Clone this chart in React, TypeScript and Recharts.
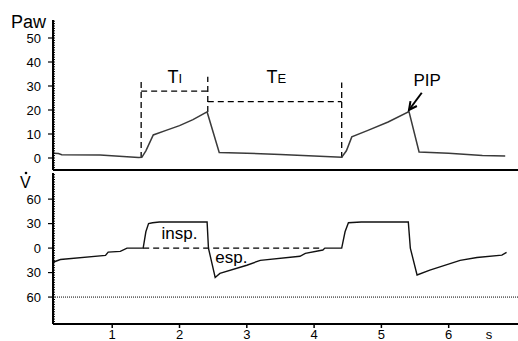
import React from 'react';
import { LineChart, Line, XAxis, YAxis, ReferenceLine, ReferenceDot } from 'recharts';

// airway pressure (cmH2O) vs time (s)
const PAW_T = [0.12, 0.2, 0.25, 0.82, 1.39, 1.44, 1.5, 1.61, 1.8, 2.0, 2.2, 2.41, 2.59, 3.0, 3.5, 4.0, 4.41, 4.48, 4.56, 4.8, 5.1, 5.41, 5.56, 6.0, 6.5, 6.84];
const PAW_V = [2.0, 1.9, 1.4, 1.2, 0.2, 0.3, 3, 9.6, 11.5, 13.5, 16, 19.2, 2.3, 2.0, 1.5, 0.8, 0.3, 3, 8.8, 11.5, 15, 19.3, 2.5, 2.0, 1.0, 0.8];

// flow (L/min) vs time (s)
const FLOW_T = [0.13, 0.23, 0.9, 0.94, 1.12, 1.22, 1.46, 1.5, 1.54, 1.6, 1.7, 2.0, 2.41, 2.43, 2.53, 2.6, 3.0, 3.2, 3.79, 3.87, 4.13, 4.16, 4.41, 4.46, 4.51, 4.7, 5.4, 5.43, 5.53, 5.72, 6.17, 6.42, 6.79, 6.86];
const FLOW_V = [-17, -14, -9, -5, -4, 0, 0, 20, 30, 31, 32, 32, 32, 0, -36, -31, -21, -15, -10, -6.5, -2.4, 0, 0, 20, 31, 32, 32, 0, -33, -27, -15, -11.5, -8.6, -5.3];

const PAW_TICKS = [0, 10, 20, 30, 40, 50];
const FLOW_TICKS = [60, 30, 0, -30, -60];
const TIME_TICKS = [1, 2, 3, 4, 5, 6, 6.6];
const TIME_LABELS = ['1', '2', '3', '4', '5', '6', 's'];

const X_DOMAIN = [0.12, 7.03];
const PAW_DOMAIN = [-5, 57.5];
const FLOW_DOMAIN = [-93, 92];

// minor ruler ticks on the left axes
const PAW_MINOR = Array.from({ length: 62 }, (_, i) => -4 + i);
const FLOW_MINOR = Array.from({ length: 61 }, (_, i) => -90 + i * 3);

// TI / TE brackets
const PAW_DASHES = [
  [{ x: 1.43, y: 0 }, { x: 1.43, y: 31.8 }],
  [{ x: 1.43, y: 27.9 }, { x: 2.42, y: 27.9 }],
  [{ x: 2.42, y: 19.2 }, { x: 2.42, y: 33.9 }],
  [{ x: 2.42, y: 23.5 }, { x: 4.41, y: 23.5 }],
  [{ x: 4.41, y: 0 }, { x: 4.41, y: 31.5 }],
];
const FLOW_DASH = [{ x: 1.46, y: 0 }, { x: 4.13, y: 0 }];
const PIP_ARROW = [{ x: 5.6, y: 27.2 }, { x: 5.41, y: 20 }];

const pawData = PAW_T.map((t, i) => ({ t, v: PAW_V[i] }));
const flowData = FLOW_T.map((t, i) => ({ t, v: FLOW_V[i] }));

const FONT = '"Liberation Sans", Arial, sans-serif';
const tickStyle = { fontSize: 13, fill: '#000', fontFamily: FONT };

const SubLabel = ({ cx, cy, main, sub }: any) => (
  <text x={cx} y={cy} textAnchor="middle" fontFamily={FONT} fill="#000">
    <tspan fontSize={18}>{main}</tspan>
    <tspan fontSize={13}>{sub}</tspan>
  </text>
);

const PlainLabel = ({ cx, cy, text, size }: any) => (
  <text x={cx} y={cy} textAnchor="middle" fontFamily={FONT} fontSize={size} fill="#000">{text}</text>
);

const ArrowHead = ({ cx, cy }: any) => (
  <path d={`M ${cx + 1.5} ${cy - 8.8} L ${cx} ${cy} L ${cx + 7.9} ${cy - 4}`} stroke="#000" strokeWidth={2} fill="none" />
);

// small ruler ticks drawn just inside the y axis line
const MinorTick = (props: any) => {
  const { x, y } = props;
  return <line x1={x} y1={y} x2={x + 2} y2={y} stroke="#000" strokeWidth={1} />;
};

const TimeTick = (props: any) => {
  const { x, y, payload } = props;
  const idx = TIME_TICKS.indexOf(payload.value);
  const isUnit = TIME_LABELS[idx] === 's';
  return (
    <g>
      {!isUnit && <line x1={x} y1={y} x2={x} y2={y + 4} stroke="#000" strokeWidth={1.5} />}
      <text x={x} y={y + 15} textAnchor="middle" style={tickStyle}>{TIME_LABELS[idx]}</text>
    </g>
  );
};

export default function App() {
  return (
    <div style={{ position: 'absolute', left: 0, top: 0, width: 518, height: 341, background: '#fff' }}>
      <div style={{ position: 'absolute', left: 0, top: 0 }}>
        <LineChart width={518} height={172} margin={{ top: 20, right: 0, bottom: 0, left: 0 }}>
          <XAxis xAxisId="frame" orientation="top" type="number" domain={X_DOMAIN} height={0}
            tick={false} tickLine={false} axisLine={{ stroke: '#000', strokeWidth: 1.5 }} allowDataOverflow />
          <XAxis dataKey="t" type="number" domain={X_DOMAIN} height={2} tick={false} tickLine={false}
            axisLine={{ stroke: '#000', strokeWidth: 2 }} allowDataOverflow />
          <YAxis type="number" domain={PAW_DOMAIN} ticks={PAW_TICKS} width={53} interval={0}
            tick={tickStyle} tickSize={5} tickMargin={7} tickLine={{ stroke: '#000', strokeWidth: 1.2 }}
            axisLine={{ stroke: '#000', strokeWidth: 2 }} allowDataOverflow />
          <YAxis yAxisId="minor" type="number" domain={PAW_DOMAIN} ticks={PAW_MINOR} width={53}
            interval={0} tick={<MinorTick />} tickSize={0} tickMargin={0} tickLine={false} axisLine={false} allowDataOverflow
            orientation="left" mirror />
          {PAW_DASHES.map((seg, i) => (
            <ReferenceLine key={i} segment={seg} stroke="#000" strokeWidth={1.3} strokeDasharray="6 4" />
          ))}
          <ReferenceLine segment={PIP_ARROW} stroke="#000" strokeWidth={2} />
          <ReferenceDot x={PIP_ARROW[1].x} y={PIP_ARROW[1].y} r={0} shape={(p: any) => <ArrowHead {...p} />} />
          <ReferenceDot x={1.93} y={31.1} r={0} shape={(p: any) => <SubLabel {...p} main="T" sub="I" />} />
          <ReferenceDot x={3.44} y={31.1} r={0} shape={(p: any) => <SubLabel {...p} main="T" sub="E" />} />
          <ReferenceDot x={5.68} y={30} r={0} shape={(p: any) => <PlainLabel {...p} text="PIP" size={17} />} />
          <Line data={pawData} dataKey="v" type="linear" stroke="#3a3a3a" strokeWidth={1.5} dot={false} isAnimationActive={false} />
        </LineChart>
      </div>
      <div style={{ position: 'absolute', left: 0, top: 172 }}>
        <LineChart width={518} height={169} margin={{ top: 1, right: 0, bottom: 0, left: 0 }}>
          <XAxis xAxisId="frame" orientation="top" type="number" domain={X_DOMAIN} height={0}
            tick={false} tickLine={false} axisLine={{ stroke: '#000', strokeWidth: 1.5 }} allowDataOverflow />
          <XAxis dataKey="t" type="number" domain={X_DOMAIN} height={17} ticks={TIME_TICKS} interval={0}
            tick={<TimeTick />} tickLine={false} tickSize={0} tickMargin={0}
            axisLine={{ stroke: '#000', strokeWidth: 2 }} allowDataOverflow />
          <YAxis type="number" domain={FLOW_DOMAIN} ticks={FLOW_TICKS} width={53} interval={0}
            tick={tickStyle} tickFormatter={(v: number) => String(Math.abs(v))} tickSize={5} tickMargin={7}
            tickLine={{ stroke: '#000', strokeWidth: 1.2 }} axisLine={{ stroke: '#000', strokeWidth: 2 }} allowDataOverflow />
          <YAxis yAxisId="minor" type="number" domain={FLOW_DOMAIN} ticks={FLOW_MINOR} width={53}
            interval={0} tick={<MinorTick />} tickSize={0} tickMargin={0} tickLine={false} axisLine={false} allowDataOverflow
            orientation="left" mirror />
          <ReferenceLine y={-60} stroke="#000" strokeWidth={1} strokeDasharray="1 1" />
          <ReferenceLine segment={FLOW_DASH} stroke="#000" strokeWidth={1.3} strokeDasharray="6 4" />
          <ReferenceDot x={2.0} y={10.6} r={0} shape={(p: any) => <PlainLabel {...p} text="insp." size={17} />} />
          <ReferenceDot x={2.77} y={-18.4} r={0} shape={(p: any) => <PlainLabel {...p} text="esp." size={17} />} />
          <Line data={flowData} dataKey="v" type="linear" stroke="#111" strokeWidth={1.4} dot={false} isAnimationActive={false} />
        </LineChart>
      </div>
      <svg width={518} height={341} style={{ position: 'absolute', left: 0, top: 0, pointerEvents: 'none' }}>
        <text x={11} y={27.5} fontFamily={FONT} fontSize={18} fill="#000">Paw</text>
        <text x={20} y={188} fontFamily={FONT} fontSize={16} fill="#000">V</text>
        <circle cx={26} cy={173} r={1.3} fill="#000" />
      </svg>
    </div>
  );
}
